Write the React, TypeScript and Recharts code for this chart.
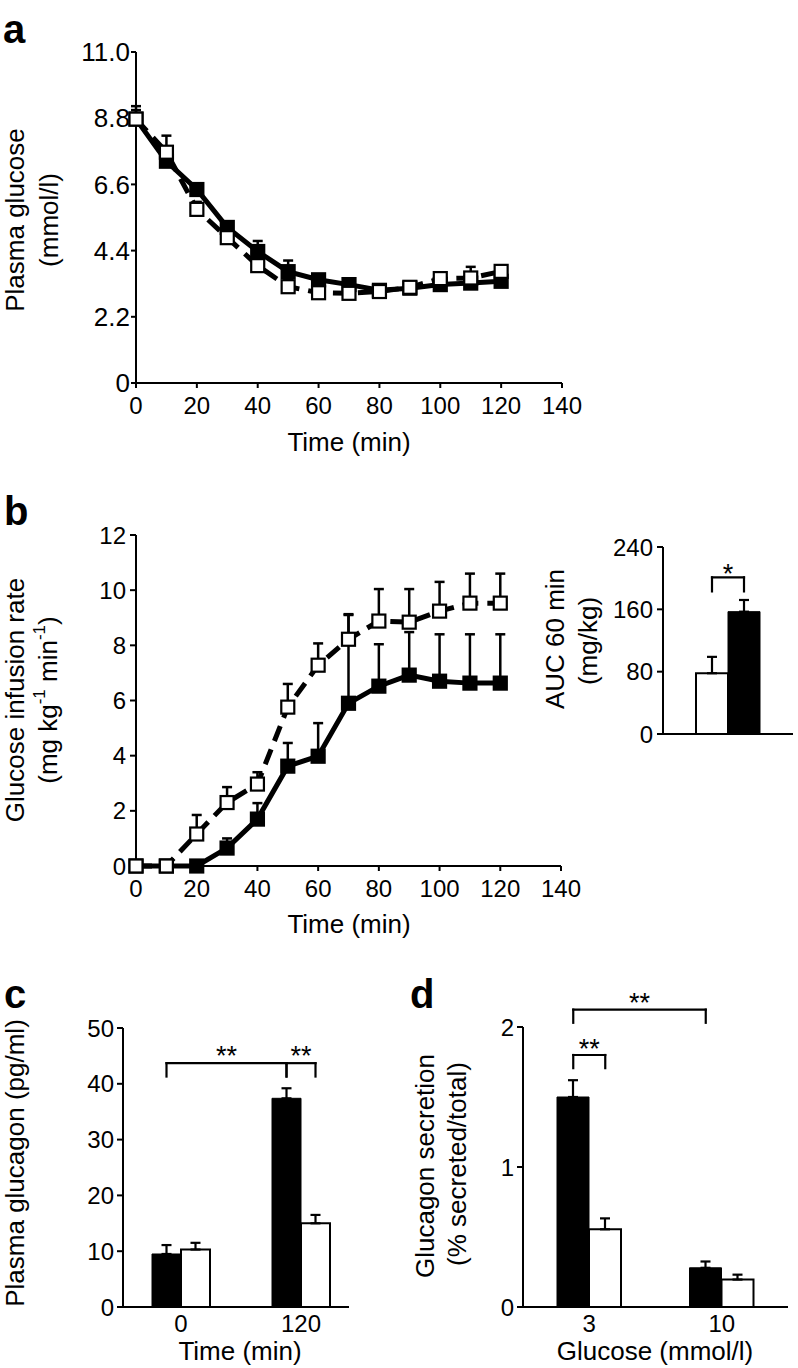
import React from 'react';
import {
  LineChart,
  Line,
  XAxis,
  YAxis,
  ErrorBar,
  ComposedChart,
  Bar,
  ReferenceLine,
  ReferenceDot,
} from 'recharts';

const FONT = '"Liberation Sans", Arial, Helvetica, sans-serif';
const TICK_FS = 24;
const TICK_FS_A_Y = 26;
const TITLE_FS = 26;
const LETTER_FS = 40;
const STAR_FS = 27;

// ---------------- Panel a: plasma glucose ----------------
const timeMin = [0, 10, 20, 30, 40, 50, 60, 70, 80, 90, 100, 110, 120];
const timeTicks = [0, 20, 40, 60, 80, 100, 120, 140];
const glucoseTicks = [0, 2.2, 4.4, 6.6, 8.8, 11];
const glucoseFilled = [8.77, 7.37, 6.43, 5.17, 4.37, 3.7, 3.43, 3.27, 3.08, 3.15, 3.27, 3.32, 3.38];
const glucoseFilledErr = [0.3, 0.25, 0.2, 0.15, 0.35, 0.37, 0.12, 0.1, 0.08, 0.08, 0.1, 0.12, 0.1];
const glucoseOpen = [8.77, 7.67, 5.77, 4.83, 3.9, 3.2, 3.0, 2.98, 3.04, 3.18, 3.47, 3.49, 3.71];
const glucoseOpenErr = [0.43, 0.55, 0.25, 0.2, 0.3, 0.25, 0.1, 0.1, 0.08, 0.08, 0.15, 0.37, 0.15];

// ---------------- Panel b: glucose infusion rate ----------------
const girTicks = [0, 2, 4, 6, 8, 10, 12];
const girFilled = [0, 0, 0, 0.65, 1.7, 3.62, 3.98, 5.9, 6.52, 6.92, 6.7, 6.63, 6.63];
const girFilledErr = [0, 0, 0, 0.35, 0.58, 0.84, 1.2, 3.2, 1.52, 1.56, 1.7, 1.77, 1.77];
const girOpen = [0, 0, 1.16, 2.3, 2.97, 5.76, 7.28, 8.22, 8.88, 8.84, 9.24, 9.53, 9.53];
const girOpenErr = [0, 0, 0.69, 0.56, 0.43, 0.84, 0.79, 0.91, 1.16, 1.2, 1.06, 1.07, 1.07];

// inset: AUC 60 min
const aucGroups = ['AUC'];
const aucOpen = [78];
const aucOpenErr = [21];
const aucFilled = [157];
const aucFilledErr = [15];
const aucTicks = [0, 80, 160, 240];
const aucBrackets = [{ from: [0, 0], to: [0, 1], y: 201, drop: 183, star: 213, text: '*' }];

// ---------------- Panel c: plasma glucagon ----------------
const glucagonTimes = ['0', '120'];
const glucagonFilled = [9.5, 37.4];
const glucagonFilledErr = [1.6, 1.8];
const glucagonOpen = [10.3, 15.0];
const glucagonOpenErr = [1.2, 1.5];
const glucagonTicks = [0, 10, 20, 30, 40, 50];
const glucagonBrackets = [
  { from: [0, 0], to: [1, 0], y: 43.7, drop: 41.3, star: 46.2, text: '**' },
  { from: [1, 0], to: [1, 1], y: 43.7, drop: 41.3, star: 46.2, text: '**' },
];

// ---------------- Panel d: glucagon secretion ----------------
const glucoseLevels = ['3', '10'];
const secretionFilled = [1.5, 0.28];
const secretionFilledErr = [0.12, 0.045];
const secretionOpen = [0.555, 0.196];
const secretionOpenErr = [0.078, 0.035];
const secretionTicks = [0, 1, 2];
const secretionBrackets = [
  { from: [0, 0], to: [1, 0], y: 2.124, drop: 2.03, star: 2.214, text: '**' },
  { from: [0, 0], to: [0, 1], y: 1.8, drop: 1.706, star: 1.886, text: '**' },
];

// ---------------- tables built from the arrays ----------------
const glucoseData = timeMin.map((t, i) => ({
  t,
  filled: glucoseFilled[i],
  filledErr: [0, glucoseFilledErr[i]],
  open: glucoseOpen[i],
  openErr: [0, glucoseOpenErr[i]],
}));
const girData = timeMin.map((t, i) => ({
  t,
  filled: girFilled[i],
  filledErr: [0, girFilledErr[i]],
  open: girOpen[i],
  openErr: [0, girOpenErr[i]],
}));
const aucData = aucGroups.map((g, i) => ({
  g,
  open: aucOpen[i],
  openErr: [0, aucOpenErr[i]],
  filled: aucFilled[i],
  filledErr: [0, aucFilledErr[i]],
}));
const glucagonData = glucagonTimes.map((g, i) => ({
  g,
  filled: glucagonFilled[i],
  filledErr: [0, glucagonFilledErr[i]],
  open: glucagonOpen[i],
  openErr: [0, glucagonOpenErr[i]],
}));
const secretionData = glucoseLevels.map((g, i) => ({
  g,
  filled: secretionFilled[i],
  filledErr: [0, secretionFilledErr[i]],
  open: secretionOpen[i],
  openErr: [0, secretionOpenErr[i]],
}));

// ---------------- styling helpers ----------------
const axisLineStyle = { stroke: '#000', strokeWidth: 2 };
const tickLineStyle = { stroke: '#000', strokeWidth: 2 };
const tickStyle = { fontSize: TICK_FS, fill: '#000', fontFamily: FONT };

const vText = (key: string, content: any, cx: number, cy: number) => (
  <text
    key={key}
    x={cx}
    y={cy}
    transform={`rotate(-90 ${cx} ${cy})`}
    textAnchor="middle"
    dominantBaseline="central"
    fontSize={TITLE_FS}
    fontFamily={FONT}
    fill="#000"
  >
    {content}
  </text>
);

const hText = (content: string, cx: number, baseline: number) => (
  <text x={cx} y={baseline} textAnchor="middle" fontSize={TITLE_FS} fontFamily={FONT} fill="#000">
    {content}
  </text>
);

const letter = (ch: string, x: number, baseline: number) => (
  <text key={`letter-${ch}`} x={x} y={baseline} fontSize={LETTER_FS} fontWeight="bold" fontFamily={FONT} fill="#000">
    {ch}
  </text>
);

const squareDot = (filled: boolean, size: number) => (props: any) => {
  const { cx, cy, index } = props;
  if (cx == null || cy == null) return <g key={`n-${index}`} />;
  return (
    <rect
      key={`sq-${filled ? 'f' : 'o'}-${index}`}
      x={cx - size / 2}
      y={cy - size / 2}
      width={size}
      height={size}
      fill={filled ? '#000' : '#fff'}
      stroke="#000"
      strokeWidth={2.2}
    />
  );
};

function renderBrackets(
  list: { from: number[]; to: number[]; y: number; drop: number; star: number; text: string }[],
  nBars: number,
  barSize: number,
  bandPx: number,
  axisId: string,
) {
  const center = (g: number, b: number) => g + 0.5 + ((b - (nBars - 1) / 2) * barSize) / bandPx;
  const out: any[] = [];
  list.forEach((br, i) => {
    const x1 = center(br.from[0], br.from[1]);
    const x2 = center(br.to[0], br.to[1]);
    const common = {
      xAxisId: axisId,
      stroke: '#000',
      strokeWidth: 2.2,
      strokeLinecap: 'square' as const,
      ifOverflow: 'visible' as const,
    };
    out.push(<ReferenceLine key={`h${i}`} {...common} segment={[{ x: x1, y: br.y }, { x: x2, y: br.y }]} />);
    out.push(<ReferenceLine key={`l${i}`} {...common} segment={[{ x: x1, y: br.y }, { x: x1, y: br.drop }]} />);
    out.push(<ReferenceLine key={`r${i}`} {...common} segment={[{ x: x2, y: br.y }, { x: x2, y: br.drop }]} />);
    out.push(
      <ReferenceDot
        key={`s${i}`}
        xAxisId={axisId}
        x={(x1 + x2) / 2}
        y={br.star}
        r={0}
        ifOverflow="visible"
        shape={(p: any) => (
          <text
            x={p.cx}
            y={p.cy}
            dy={0.57 * STAR_FS}
            textAnchor="middle"
            fontSize={STAR_FS}
            fontFamily={FONT}
            fill="#000"
          >
            {br.text}
          </text>
        )}
      />,
    );
  });
  return out;
}

const glucoseFmt = (v: number) => (v === 0 ? '0' : v.toFixed(1));

// ---------------- layout (chart-local coordinates) ----------------
const PA = { left: 0, top: 0, w: 600, h: 470, plotL: 136, plotT: 52, plotR: 562, plotB: 383 };
const PB = { left: 0, top: 470, w: 600, h: 470, plotL: 136, plotT: 65, plotR: 561, plotB: 396 };
const PI = { left: 520, top: 520, w: 278, h: 240, plotL: 143, plotT: 27, plotR: 273, plotB: 214, bar: 32 };
const PC = { left: 0, top: 940, w: 400, h: 428, plotL: 123, plotT: 88, plotR: 349, plotB: 367, padL: -2, padR: -12, bar: 29 };
const PD = { left: 400, top: 940, w: 398, h: 428, plotL: 123, plotT: 87, plotR: 388, plotB: 367, bar: 32 };

const cBand = (PC.plotR - PC.plotL - PC.padL - PC.padR) / glucagonTimes.length;
const dBand = (PD.plotR - PD.plotL) / glucoseLevels.length;
const iBand = (PI.plotR - PI.plotL) / aucGroups.length;

function PanelA() {
  return (
    <LineChart
      width={PA.w}
      height={PA.h}
      data={glucoseData}
      margin={{ top: PA.plotT, right: PA.w - PA.plotR, left: 0, bottom: 0 }}
    >
      <XAxis
        dataKey="t"
        type="number"
        domain={[0, 140]}
        ticks={timeTicks}
        interval={0}
        tickSize={5}
        tickMargin={9}
        height={PA.h - PA.plotB}
        axisLine={axisLineStyle}
        tickLine={tickLineStyle}
        tick={tickStyle}
        label={{ content: () => hText('Time (min)', 349, 451) }}
      />
      <YAxis
        width={PA.plotL}
        domain={[0, 11]}
        ticks={glucoseTicks}
        interval={0}
        tickFormatter={glucoseFmt}
        tickSize={5}
        tickMargin={1}
        axisLine={axisLineStyle}
        tickLine={tickLineStyle}
        tick={{ ...tickStyle, fontSize: TICK_FS_A_Y }}
        label={{
          content: () => (
            <g>
              {letter('a', 3, 43)}
              {vText('a1', 'Plasma glucose', 15, 220)}
              {vText('a2', '(mmol/l)', 49, 220)}
            </g>
          ),
        }}
      />
      <Line
        dataKey="filled"
        stroke="#000"
        strokeWidth={5}
        dot={squareDot(true, 13)}
        activeDot={false}
        isAnimationActive={false}
      >
        <ErrorBar dataKey="filledErr" direction="y" width={5} strokeWidth={2.5} stroke="#000" />
      </Line>
      <Line
        dataKey="open"
        stroke="#000"
        strokeWidth={5}
        strokeDasharray="16 9"
        dot={squareDot(false, 13)}
        activeDot={false}
        isAnimationActive={false}
      >
        <ErrorBar dataKey="openErr" direction="y" width={5} strokeWidth={2.5} stroke="#000" />
      </Line>
    </LineChart>
  );
}

function PanelB() {
  return (
    <LineChart
      width={PB.w}
      height={PB.h}
      data={girData}
      margin={{ top: PB.plotT, right: PB.w - PB.plotR, left: 0, bottom: 0 }}
    >
      <XAxis
        dataKey="t"
        type="number"
        domain={[0, 140]}
        ticks={timeTicks}
        interval={0}
        tickSize={5}
        tickMargin={9}
        height={PB.h - PB.plotB}
        axisLine={axisLineStyle}
        tickLine={tickLineStyle}
        tick={tickStyle}
        label={{ content: () => hText('Time (min)', 349, 463) }}
      />
      <YAxis
        width={PB.plotL}
        domain={[0, 12]}
        ticks={girTicks}
        interval={0}
        tickSize={6}
        tickMargin={4}
        axisLine={axisLineStyle}
        tickLine={tickLineStyle}
        tick={tickStyle}
        label={{
          content: () => (
            <g>
              {letter('b', 4, 55)}
              {vText('b1', 'Glucose infusion rate', 15, 230)}
              {vText(
                'b2',
                <>
                  (mg kg
                  <tspan dy={-9} fontSize={17}>
                    -1
                  </tspan>
                  <tspan dy={9}> min</tspan>
                  <tspan dy={-9} fontSize={17}>
                    -1
                  </tspan>
                  <tspan dy={9}>)</tspan>
                </>,
                48,
                230,
              )}
            </g>
          ),
        }}
      />
      <Line
        dataKey="filled"
        stroke="#000"
        strokeWidth={5}
        dot={squareDot(true, 13)}
        activeDot={false}
        isAnimationActive={false}
      >
        <ErrorBar dataKey="filledErr" direction="y" width={5} strokeWidth={2.5} stroke="#000" />
      </Line>
      <Line
        dataKey="open"
        stroke="#000"
        strokeWidth={5}
        strokeDasharray="16 9"
        dot={squareDot(false, 13)}
        activeDot={false}
        isAnimationActive={false}
      >
        <ErrorBar dataKey="openErr" direction="y" width={5} strokeWidth={2.5} stroke="#000" />
      </Line>
    </LineChart>
  );
}

function PanelInset() {
  return (
    <ComposedChart
      width={PI.w}
      height={PI.h}
      data={aucData}
      barGap={0}
      margin={{ top: PI.plotT, right: PI.w - PI.plotR, left: 0, bottom: 0 }}
    >
      <XAxis
        dataKey="g"
        tick={false}
        tickLine={false}
        height={PI.h - PI.plotB}
        axisLine={axisLineStyle}
      />
      <XAxis
        xAxisId="n"
        dataKey="bracketPos"
        type="number"
        domain={[0, aucGroups.length]}
        allowDataOverflow
        hide
      />
      <YAxis
        width={PI.plotL}
        domain={[0, 240]}
        ticks={aucTicks}
        interval={0}
        tickSize={6}
        tickMargin={4}
        axisLine={axisLineStyle}
        tickLine={tickLineStyle}
        tick={tickStyle}
        label={{
          content: () => (
            <g>
              {vText('i1', 'AUC 60 min', 35, 119)}
              {vText('i2', '(mg/kg)', 68, 121)}
            </g>
          ),
        }}
      />
      <Bar dataKey="open" fill="#fff" stroke="#000" strokeWidth={2} barSize={PI.bar} isAnimationActive={false}>
        <ErrorBar dataKey="openErr" direction="y" width={5} strokeWidth={2.2} stroke="#000" />
      </Bar>
      <Bar dataKey="filled" fill="#000" stroke="#000" strokeWidth={1} barSize={PI.bar} isAnimationActive={false}>
        <ErrorBar dataKey="filledErr" direction="y" width={5} strokeWidth={2.2} stroke="#000" />
      </Bar>
      {renderBrackets(aucBrackets, 2, PI.bar, iBand, 'n')}
    </ComposedChart>
  );
}

function PanelC() {
  return (
    <ComposedChart
      width={PC.w}
      height={PC.h}
      data={glucagonData}
      barGap={0}
      margin={{ top: PC.plotT, right: PC.w - PC.plotR, left: 0, bottom: 0 }}
    >
      <XAxis
        dataKey="g"
        tickLine={false}
        tickSize={0}
        tickMargin={8}
        interval={0}
        padding={{ left: PC.padL, right: PC.padR }}
        height={PC.h - PC.plotB}
        axisLine={axisLineStyle}
        tick={tickStyle}
        label={{ content: () => hText('Time (min)', 240, 420) }}
      />
      <XAxis
        xAxisId="n"
        dataKey="bracketPos"
        type="number"
        domain={[0, glucagonTimes.length]}
        allowDataOverflow
        padding={{ left: PC.padL, right: PC.padR }}
        hide
      />
      <YAxis
        width={PC.plotL}
        domain={[0, 50]}
        ticks={glucagonTicks}
        interval={0}
        tickSize={6}
        tickMargin={3}
        axisLine={axisLineStyle}
        tickLine={tickLineStyle}
        tick={tickStyle}
        label={{
          content: () => (
            <g>
              {letter('c', 4, 68)}
              {vText('c1', 'Plasma glucagon (pg/ml)', 15, 223)}
            </g>
          ),
        }}
      />
      <Bar dataKey="filled" fill="#000" stroke="#000" strokeWidth={1} barSize={PC.bar} isAnimationActive={false}>
        <ErrorBar dataKey="filledErr" direction="y" width={5} strokeWidth={2.2} stroke="#000" />
      </Bar>
      <Bar dataKey="open" fill="#fff" stroke="#000" strokeWidth={2} barSize={PC.bar} isAnimationActive={false}>
        <ErrorBar dataKey="openErr" direction="y" width={5} strokeWidth={2.2} stroke="#000" />
      </Bar>
      {renderBrackets(glucagonBrackets, 2, PC.bar, cBand, 'n')}
    </ComposedChart>
  );
}

function PanelD() {
  return (
    <ComposedChart
      width={PD.w}
      height={PD.h}
      data={secretionData}
      barGap={0}
      margin={{ top: PD.plotT, right: PD.w - PD.plotR, left: 0, bottom: 0 }}
    >
      <XAxis
        dataKey="g"
        tickLine={false}
        tickSize={0}
        tickMargin={8}
        interval={0}
        height={PD.h - PD.plotB}
        axisLine={axisLineStyle}
        tick={tickStyle}
        label={{ content: () => hText('Glucose (mmol/l)', 255, 420) }}
      />
      <XAxis
        xAxisId="n"
        dataKey="bracketPos"
        type="number"
        domain={[0, glucoseLevels.length]}
        allowDataOverflow
        hide
      />
      <YAxis
        width={PD.plotL}
        domain={[0, 2]}
        ticks={secretionTicks}
        interval={0}
        tickSize={6}
        tickMargin={3}
        axisLine={axisLineStyle}
        tickLine={tickLineStyle}
        tick={tickStyle}
        label={{
          content: () => (
            <g>
              {letter('d', 10, 68)}
              {vText('d1', 'Glucagon secretion', 25, 226)}
              {vText('d2', '(% secreted/total)', 57, 224)}
            </g>
          ),
        }}
      />
      <Bar dataKey="filled" fill="#000" stroke="#000" strokeWidth={1} barSize={PD.bar} isAnimationActive={false}>
        <ErrorBar dataKey="filledErr" direction="y" width={5} strokeWidth={2.2} stroke="#000" />
      </Bar>
      <Bar dataKey="open" fill="#fff" stroke="#000" strokeWidth={2} barSize={PD.bar} isAnimationActive={false}>
        <ErrorBar dataKey="openErr" direction="y" width={5} strokeWidth={2.2} stroke="#000" />
      </Bar>
      {renderBrackets(secretionBrackets, 2, PD.bar, dBand, 'n')}
    </ComposedChart>
  );
}

const box = (p: { left: number; top: number; w: number; h: number }) => ({
  position: 'absolute' as const,
  left: p.left,
  top: p.top,
  width: p.w,
  height: p.h,
});

export default function App() {
  return (
    <div
      style={{
        position: 'absolute',
        left: 0,
        top: 0,
        width: 798,
        height: 1368,
        background: '#fff',
        fontFamily: FONT,
        overflow: 'hidden',
      }}
    >
      <div style={box(PA)}>
        <PanelA />
      </div>
      <div style={box(PB)}>
        <PanelB />
      </div>
      <div style={box(PI)}>
        <PanelInset />
      </div>
      <div style={box(PC)}>
        <PanelC />
      </div>
      <div style={box(PD)}>
        <PanelD />
      </div>
    </div>
  );
}
